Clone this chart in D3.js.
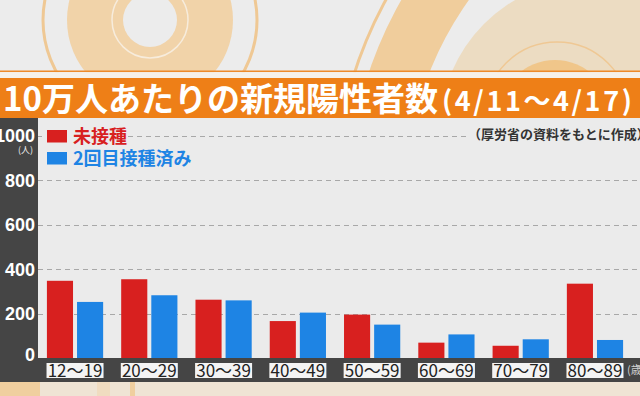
<!DOCTYPE html>
<html>
<head>
    <meta charset="utf-8">
    <title>10万人あたりの新規陽性者数</title>
    <script src="https://cdnjs.cloudflare.com/ajax/libs/d3/7.8.5/d3.min.js"></script>
</head>
<style media="screen">
    body { margin: 0; background: #ececec; }
    svg { display: block; font-family: "Noto Sans CJK JP", "Noto Sans", sans-serif; }
    .grid line { stroke: #a8a8a8; stroke-width: 1; stroke-dasharray: 5 4; }
    .ytick text { fill: #fff; font-size: 18px; font-weight: 700; }
</style>
<body>
<script>
    // data
    var ages = ["12～19", "20～29", "30～39", "40～49", "50～59", "60～69", "70～79", "80～89"];
    var series = ["未接種", "2回目接種済み"];
    var unvaccinated = [347, 354, 262, 166, 195, 69, 55, 334];
    var twoDoses = [252, 282, 259, 204, 150, 106, 84, 81];
    var yTicks = [0, 200, 400, 600, 800, 1000];
    var colors = ["#d8201f", "#1e84e4"];

    var W = 640, H = 396;
    var plotLeft = 38, plotRight = 632, base = 358;

    var svg = d3.select("body").append("svg")
        .attr("width", W)
        .attr("height", H);

    // background decorations (top)
    var deco = svg.append("g");
    deco.append("circle").attr("cx", 150).attr("cy", 20).attr("r", 107)
        .attr("fill", "none").attr("stroke", "#efc894").attr("stroke-width", 3);
    deco.append("circle").attr("cx", 150).attr("cy", 20).attr("r", 83).attr("fill", "#f1d3a9");
    deco.append("circle").attr("cx", 150).attr("cy", 20).attr("r", 38)
        .attr("fill", "none").attr("stroke", "#f7ecdc").attr("stroke-width", 1.5);
    deco.append("circle").attr("cx", 150).attr("cy", 20).attr("r", 27).attr("fill", "#ececec");

    deco.append("circle").attr("cx", 590).attr("cy", 130).attr("r", 150).attr("fill", "#ecdcc2");
    deco.append("circle").attr("cx", 557).attr("cy", 114).attr("r", 72)
        .attr("fill", "none").attr("stroke", "#efc894").attr("stroke-width", 1.5);
    deco.append("circle").attr("cx", 555).attr("cy", 116).attr("r", 56).attr("fill", "#f0c68a");

    var bigArc = d3.arc().startAngle(-Math.PI).endAngle(0);
    deco.append("path")
        .attr("transform", "translate(750,200)")
        .attr("d", bigArc.innerRadius(345).outerRadius(402)())
        .attr("fill", "#f0cd9c");
    deco.append("path")
        .attr("transform", "translate(750,200)")
        .attr("d", bigArc.innerRadius(414).outerRadius(417)())
        .attr("fill", "#efc894");

    // title band
    svg.append("rect").attr("x", 0).attr("y", 70.5).attr("width", W).attr("height", 1.6).attr("fill", "#ee8a2a");
    svg.append("rect").attr("x", 0).attr("y", 72.1).attr("width", W).attr("height", 5.9).attr("fill", "#f6f1ea");
    svg.append("rect").attr("x", 0).attr("y", 78).attr("width", W).attr("height", 40).attr("fill", "#ee7f17");

    var title = svg.append("text")
        .attr("x", 3)
        .attr("y", 111)
        .attr("fill", "#fff")
        .style("font-weight", 700);
    title.append("tspan").style("font-size", "33px").text("10万人あたりの新規陽性者数");
    title.append("tspan")
        .attr("x", 442)
        .style("font-size", "27px")
        .style("letter-spacing", "2.6px")
        .text("(4/11～4/17)");

    // plot area
    svg.append("rect").attr("x", 0).attr("y", 118).attr("width", W).attr("height", 264).attr("fill", "#ebebeb");

    // bottom strip
    svg.append("rect").attr("x", 0).attr("y", 382).attr("width", W).attr("height", 14).attr("fill", "#efe4d4");
    svg.append("rect").attr("x", 0).attr("y", 382).attr("width", 40).attr("height", 14).attr("fill", "#f0cf9f");
    svg.append("rect").attr("x", 97).attr("y", 382).attr("width", 13).attr("height", 14).attr("fill", "#f0dcc0");
    svg.append("rect").attr("x", 130).attr("y", 382).attr("width", 5).attr("height", 14).attr("fill", "#f0cf9f");

    var y = d3.scaleLinear()
        .domain([0, 1000])
        .range([base, 135.5]);

    var x = d3.scaleBand()
        .domain(ages)
        .range([plotLeft, plotRight])
        .paddingInner(0.243)
        .paddingOuter(0.12);

    var xs = d3.scaleBand()
        .domain(series)
        .range([0, x.bandwidth()])
        .paddingInner(0.133);

    // gridlines
    var grid = svg.append("g").attr("class", "grid");
    grid.selectAll("line")
        .data(yTicks.filter(function(d) { return d > 0; }))
        .enter()
        .append("line")
        .attr("x1", plotLeft)
        .attr("x2", W)
        .attr("y1", function(d) { return Math.round(y(d)) + 0.5; })
        .attr("y2", function(d) { return Math.round(y(d)) + 0.5; });

    // bars
    var groups = svg.selectAll("g.age")
        .data(ages)
        .enter()
        .append("g")
        .attr("class", "age")
        .attr("transform", function(d) { return "translate(" + x(d) + ",0)"; });

    groups.selectAll("rect")
        .data(function(d, i) {
            return [
                { key: series[0], value: unvaccinated[i], color: colors[0] },
                { key: series[1], value: twoDoses[i], color: colors[1] }
            ];
        })
        .enter()
        .append("rect")
        .attr("x", function(d) { return xs(d.key); })
        .attr("width", xs.bandwidth())
        .attr("y", function(d) { return y(d.value); })
        .attr("height", function(d) { return base - y(d.value); })
        .attr("fill", function(d) { return d.color; });

    // dark axis panels
    svg.append("rect").attr("x", 0).attr("y", 118).attr("width", plotLeft).attr("height", 264).attr("fill", "#454545");
    svg.append("rect").attr("x", 0).attr("y", base).attr("width", W).attr("height", 24).attr("fill", "#454545");

    // y axis labels
    var yAxis = d3.axisLeft(y).tickValues(yTicks).tickFormat(d3.format("d")).tickSize(0).tickPadding(0);
    var ya = svg.append("g")
        .attr("class", "ytick")
        .attr("transform", "translate(35,0)")
        .call(yAxis);
    ya.select(".domain").remove();
    ya.selectAll("text").attr("dy", "0.35em");
    ya.selectAll(".tick").filter(function(d) { return d === 0; })
        .select("text").attr("transform", "translate(0,-4)");

    svg.append("text")
        .attr("x", 33)
        .attr("y", 153)
        .attr("text-anchor", "end")
        .attr("fill", "#eee")
        .style("font-size", "9px")
        .text("(人)");

    // x axis labels
    var xa = svg.append("g")
        .call(d3.axisBottom(x).tickSize(0));
    xa.select(".domain").remove();
    xa.selectAll(".tick").each(function() {
        var t = d3.select(this);
        t.insert("rect", "text")
            .attr("x", -28.5)
            .attr("y", 363)
            .attr("width", 57)
            .attr("height", 15)
            .attr("fill", "#f4f4f4");
        t.select("text")
            .attr("y", 377)
            .attr("dy", null)
            .attr("fill", "#222")
            .style("font-size", "17px")
            .style("font-family", "\"Noto Sans CJK JP\", sans-serif");
    });
    svg.append("text")
        .attr("x", 627)
        .attr("y", 374)
        .attr("fill", "#cfcfcf")
        .style("font-size", "11px")
        .text("(歳)");

    // legend
    svg.append("rect").attr("x", 42).attr("y", 127).attr("width", 86).attr("height", 16).attr("fill", "#ebebeb");
    var legend = svg.selectAll("g.legend")
        .data(series)
        .enter()
        .append("g")
        .attr("class", "legend")
        .attr("transform", function(d, i) { return "translate(47," + (130 + i * 22) + ")"; });
    legend.append("rect")
        .attr("width", 20)
        .attr("height", 12.5)
        .attr("fill", function(d, i) { return colors[i]; });
    legend.append("text")
        .attr("x", 26)
        .attr("y", 13)
        .attr("fill", function(d, i) { return colors[i]; })
        .style("font-size", "18px")
        .style("font-weight", 700)
        .text(function(d) { return d; });

    // source
    svg.append("rect").attr("x", 466).attr("y", 128).attr("width", 174).attr("height", 14).attr("fill", "#ebebeb");
    svg.append("text")
        .attr("x", 468)
        .attr("y", 139)
        .attr("fill", "#333")
        .style("font-size", "13px")
        .style("font-weight", 700)
        .text("（厚労省の資料をもとに作成）");
</script>
</body>
</html>
